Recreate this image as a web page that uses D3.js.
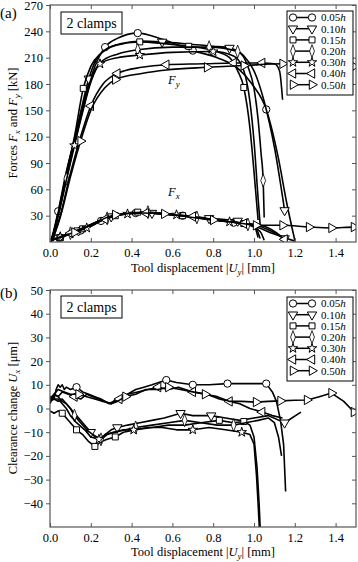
<!DOCTYPE html>
<html>
<head>
<meta charset="utf-8">
<script src="https://cdn.jsdelivr.net/npm/d3@7"></script>
<style>
  body { margin: 0; background: #fff; }
  text { font-family: "Liberation Serif", "DejaVu Serif", serif; fill: #000; }
</style>
</head>
<body>
<div id="chart"></div>
<script>
// series labels and markers (same order everywhere)
const seriesLabels = ["0.05", "0.10", "0.15", "0.20", "0.30", "0.40", "0.50"];
const markerTypes = ["circle", "tdown", "square", "diamond", "star", "tleft", "tright"];

const xTicks = [0, 0.2, 0.4, 0.6, 0.8, 1.0, 1.2, 1.4];
const forceTicks = [30, 60, 90, 120, 150, 180, 210, 240, 270];
const clearTicks = [-40, -30, -20, -10, 0, 10, 20, 30, 40, 50];

// [displacement mm, value, marker?]
// Fy (kN)
const fy005 = [[0,0],[0.01,6],[0.04,35,1],[0.08,80],[0.13,125],[0.18,172],[0.22,200],[0.27,222,1],[0.33,232],[0.43,238,1],[0.55,231],[0.70,218,1],[0.82,210],[0.92,198],[0.99,180],[1.06,151,1],[1.12,95],[1.16,45],[1.2,2]];
const fy010 = [[0,0],[0.01,5],[0.04,33],[0.08,78],[0.12,118],[0.16,158],[0.19,186,1],[0.22,205],[0.28,220],[0.35,226],[0.45,229],[0.55,228,1],[0.7,225],[0.8,223],[0.88,221,1],[0.95,212],[1.0,195],[1.05,160],[1.1,108],[1.15,36,1]];
const fy015 = [[0,0],[0.01,5],[0.04,32],[0.08,76],[0.12,120],[0.163,175,1],[0.2,200],[0.25,215],[0.32,224],[0.44,228,1],[0.56,226],[0.68,223,1],[0.8,218],[0.88,210],[0.92,195],[0.95,176,1],[0.98,130],[1.0,80],[1.02,25]];
const fy020 = [[0,0],[0.01,4],[0.04,30],[0.08,72,1],[0.12,112],[0.16,150],[0.2,185],[0.25,205],[0.33,214],[0.43,219,1],[0.6,222],[0.78,222,1],[0.92,217,1],[0.97,200],[1.0,175],[1.02,140],[1.035,100],[1.045,70,1],[1.05,28]];
const fy030 = [[0,0],[0.01,4],[0.04,30],[0.08,70],[0.12,110,1],[0.16,148],[0.2,182],[0.245,203,1],[0.33,210],[0.44,213,1],[0.6,216],[0.8,217,1],[0.9,212],[0.95,195],[0.98,160],[1.0,115],[1.02,50],[1.03,20]];
const fy040 = [[0,0],[0.01,3],[0.05,30],[0.1,78],[0.15,120],[0.2,155,1],[0.26,180],[0.33,192,1],[0.45,199],[0.57,202,1],[0.75,203],[0.9,204,1],[1.04,204,1],[1.1,203],[1.125,195],[1.14,162]];
const fy050 = [[0,0],[0.01,3],[0.05,28],[0.1,74],[0.15,115,1],[0.2,150],[0.27,176],[0.32,185,1],[0.45,192],[0.57,196],[0.77,199,1],[0.95,201,1],[1.14,203,1],[1.3,202],[1.49,200,1],[1.5,200]];

// Fx (kN)
const fx005 = [[0,0],[0.01,2],[0.03,4],[0.05,5,1],[0.1,9],[0.15,13,1],[0.2,18],[0.25,24,1],[0.32,30],[0.42,33,1],[0.55,32],[0.65,30,1],[0.78,26],[0.9,22,1],[1.0,18],[1.1,9],[1.2,1]];
const fx010 = [[0,0],[0.01,3],[0.04,5,1],[0.1,10],[0.14,13,1],[0.22,22],[0.3,29,1],[0.42,33],[0.5,33,1],[0.65,30],[0.78,27,1],[0.92,24,1],[1.0,20],[1.07,14],[1.15,4,1]];
const fx015 = [[0,0],[0.01,2],[0.05,5,1],[0.1,10],[0.16,15,1],[0.23,23],[0.32,30,1],[0.43,34,1],[0.55,32],[0.65,30,1],[0.8,25],[0.95,21,1],[1.0,18],[1.02,5]];
const fx020 = [[0,0],[0.01,2],[0.05,5],[0.1,10,1],[0.2,20],[0.28,27,1],[0.4,33],[0.48,34,1],[0.6,31],[0.72,28,1],[0.85,24],[0.97,20,1],[1.03,12],[1.05,2]];
const fx030 = [[0,0],[0.02,3],[0.05,6,1],[0.12,11],[0.18,16,1],[0.3,29],[0.38,32,1],[0.5,33],[0.62,31,1],[0.75,27],[0.88,23,1],[1.0,19],[1.03,4]];
const fx040 = [[0,0],[0.02,3],[0.05,5],[0.1,10,1],[0.2,19],[0.27,26,1],[0.4,33],[0.47,33,1],[0.6,31],[0.7,29,1],[0.85,24],[0.95,21,1],[1.05,18],[1.1,12],[1.15,3,1]];
const fx050 = [[0,0],[0.02,3],[0.05,6],[0.12,11,1],[0.2,19],[0.32,31,1],[0.45,33],[0.56,32,1],[0.7,28],[0.8,25,1],[0.92,22],[1.01,19,1],[1.14,19,1],[1.27,17,1],[1.38,16,1],[1.49,17,1],[1.5,17]];

// Ux clearance change (um)
const ux005 = [[0,3],[0.01,5],[0.02,4],[0.03,8],[0.04,10],[0.05,9],[0.06,10],[0.07,8],[0.08,9],[0.1,8],[0.13,9,1],[0.16,7],[0.19,6],[0.22,5],[0.25,4],[0.27,3],[0.29,2],[0.31,3],[0.34,5],[0.38,6],[0.42,8],[0.46,9],[0.5,10],[0.57,12,1],[0.62,11],[0.7,10,1],[0.78,10],[0.87,10.5,1],[0.95,10.5],[1.06,10.5,1],[1.09,7],[1.11,3],[1.13,-5],[1.145,-15],[1.155,-35]];
const ux010 = [[0,4],[0.02,6],[0.04,5],[0.06,3],[0.08,2],[0.1,0],[0.13,-3],[0.16,-6],[0.2,-10,1],[0.23,-13],[0.25,-14],[0.27,-11],[0.3,-9],[0.33,-8,1],[0.38,-7],[0.44,-6],[0.5,-5],[0.56,-4],[0.64,-2,1],[0.7,-3],[0.79,-3,1],[0.86,-4],[0.93,-5],[1.0,-4],[1.07,-3],[1.15,-6,1],[1.23,-1.5]];
const ux015 = [[0,-1],[0.02,-2],[0.04,-1],[0.06,-2,1],[0.08,-4],[0.1,-6],[0.13,-9,1],[0.16,-11],[0.19,-14],[0.22,-16,1],[0.25,-14],[0.28,-13],[0.32,-12,1],[0.36,-10],[0.42,-9],[0.5,-8],[0.58,-7],[0.66,-7],[0.74,-6],[0.83,-5,1],[0.9,-6],[0.95,-5.5,1],[0.98,-7],[1.0,-12],[1.015,-25],[1.025,-40],[1.03,-50]];
const ux020 = [[0,5],[0.02,4],[0.04,3],[0.06,4],[0.08,2],[0.1,0],[0.12,-3,1],[0.15,-6],[0.18,-9],[0.21,-11],[0.25,-13,1],[0.28,-11],[0.32,-10],[0.37,-9],[0.42,-8,1],[0.5,-7],[0.58,-6],[0.66,-5,1],[0.74,-6],[0.82,-7],[0.9,-7,1],[0.96,-6],[1.02,-5],[1.07,-4],[1.1,-6],[1.12,-12],[1.135,-20]];
const ux030 = [[0,3],[0.02,4],[0.04,4],[0.06,2],[0.08,0],[0.1,-3],[0.13,-6],[0.17,-9],[0.2,-12],[0.24,-13,1],[0.27,-11],[0.31,-10],[0.36,-9],[0.41,-9,1],[0.48,-8],[0.55,-8],[0.62,-9],[0.7,-9,1],[0.78,-8],[0.86,-9],[0.94,-10,1],[0.98,-11],[1.0,-15],[1.012,-28],[1.02,-40],[1.026,-50]];
const ux040 = [[0,2],[0.01,4],[0.02,6],[0.04,5],[0.06,7],[0.09,6],[0.12,5,1],[0.15,4],[0.18,6],[0.21,5],[0.24,4],[0.27,3],[0.3,2],[0.34,4,1],[0.38,6],[0.43,7],[0.48,8],[0.53,9,1],[0.58,8],[0.63,9],[0.7,7,1],[0.77,6],[0.83,4],[0.88,3,1],[0.93,2],[0.98,0],[1.04,-1.5,1],[1.09,-3],[1.14,-4]];
const ux050 = [[0,4],[0.02,6],[0.04,8],[0.07,7],[0.1,6],[0.14,6,1],[0.18,5],[0.22,4],[0.26,3],[0.3,2],[0.33,3],[0.37,5,1],[0.42,6],[0.47,8],[0.53,8],[0.58,9,1],[0.64,8],[0.7,7],[0.76,6,1],[0.82,5],[0.88,3],[0.94,3],[1.01,2.7,1],[1.07,3],[1.13,3.2,1],[1.2,3.5],[1.26,3.6,1],[1.32,5],[1.38,6.5,1],[1.44,3],[1.49,-1.5,1],[1.5,-1.5]];

const fySeries = [fy005, fy010, fy015, fy020, fy030, fy040, fy050];
const fxSeries = [fx005, fx010, fx015, fx020, fx030, fx040, fx050];
const uxSeries = [ux005, ux010, ux015, ux020, ux030, ux040, ux050];

const width = 358, height = 562;
const svg = d3.select("#chart").append("svg")
  .attr("width", width)
  .attr("height", height);

const x = d3.scaleLinear().domain([0, 1.5]).range([50, 356]);
const yTop = d3.scaleLinear().domain([0, 270]).range([242, 5]);
const yBot = d3.scaleLinear().domain([-50, 50]).range([527, 290]);

// marker drawing
function addMarker(g, type, px, py) {
  let sym, rot = 0, sx = 1;
  if (type === "circle") sym = d3.symbol(d3.symbolCircle, 42);
  else if (type === "square") sym = d3.symbol(d3.symbolSquare, 36);
  else if (type === "diamond") { sym = d3.symbol(d3.symbolDiamond, 48); sx = 0.65; }
  else if (type === "star") sym = d3.symbol(d3.symbolStar, 28);
  else {
    sym = d3.symbol(d3.symbolTriangle, 38);
    rot = type === "tdown" ? 180 : type === "tleft" ? -90 : 90;
  }
  g.append("path")
    .attr("d", sym())
    .attr("transform", `translate(${px},${py}) rotate(${rot}) scale(${sx},1)`)
    .attr("fill", "#fff")
    .attr("stroke", "#000")
    .attr("stroke-width", 1);
}

function drawSeries(g, data, y, type, curve) {
  const line = d3.line().x(d => x(d[0])).y(d => y(d[1])).curve(curve);
  g.append("path")
    .attr("d", line(data))
    .attr("fill", "none")
    .attr("stroke", "#000")
    .attr("stroke-width", 1.6)
    .attr("stroke-linejoin", "round");
  data.filter(d => d[2]).forEach(d => addMarker(g, type, x(d[0]), y(d[1])));
}

function drawFrame(y, yTicks) {
  const y0 = y.range()[0], y1 = y.range()[1];
  const ax = svg.append("g");

  ax.append("g")
    .attr("transform", `translate(0,${y0})`)
    .call(d3.axisBottom(x).tickValues(xTicks).tickFormat(d3.format(".1f"))
      .tickSizeInner(-4).tickSizeOuter(0).tickPadding(6))
    .call(g => g.select(".domain").remove());

  ax.append("g")
    .attr("transform", `translate(0,${y1})`)
    .call(d3.axisTop(x).tickValues(xTicks).tickFormat("")
      .tickSizeInner(-4).tickSizeOuter(0))
    .call(g => g.select(".domain").remove());

  ax.append("g")
    .attr("transform", "translate(50,0)")
    .call(d3.axisLeft(y).tickValues(yTicks).tickFormat(d3.format("d"))
      .tickSizeInner(4).tickSizeOuter(0).tickPadding(3))
    .call(g => g.select(".domain").remove());

  ax.append("g")
    .attr("transform", "translate(356,0)")
    .call(d3.axisRight(y).tickValues(yTicks).tickFormat("")
      .tickSizeInner(-4).tickSizeOuter(0))
    .call(g => g.select(".domain").remove());

  ax.selectAll(".tick line").attr("stroke", "#555").attr("stroke-width", 1);
  ax.selectAll("text")
    .attr("font-family", "Liberation Serif, serif")
    .attr("font-size", 12.5);

  svg.append("rect")
    .attr("x", 50).attr("y", y1)
    .attr("width", 306).attr("height", y0 - y1)
    .attr("fill", "none")
    .attr("stroke", "#555")
    .attr("stroke-width", 1.2);
}

function clampBox(ty) {
  svg.append("rect")
    .attr("x", 61).attr("y", ty).attr("width", 61).attr("height", 22)
    .attr("fill", "#fff").attr("stroke", "#000").attr("stroke-width", 1);
  svg.append("text")
    .attr("x", 91.5).attr("y", ty + 15.5)
    .attr("text-anchor", "middle")
    .attr("font-size", 14)
    .text("2 clamps");
}

function legend(ty) {
  const lg = svg.append("g");
  lg.append("rect")
    .attr("x", 287).attr("y", ty).attr("width", 66).attr("height", 84)
    .attr("fill", "#fff").attr("stroke", "#000").attr("stroke-width", 1);
  seriesLabels.forEach((lab, i) => {
    const yy = ty + 6.5 + i * 11.2;
    lg.append("line")
      .attr("x1", 293).attr("x2", 312).attr("y1", yy).attr("y2", yy)
      .attr("stroke", "#000").attr("stroke-width", 1.5);
    addMarker(lg, markerTypes[i], 293, yy);
    addMarker(lg, markerTypes[i], 312, yy);
    const t = lg.append("text")
      .attr("x", 321).attr("y", yy + 3.8)
      .attr("font-size", 11);
    t.append("tspan").text(lab);
    t.append("tspan").attr("font-style", "italic").text("h");
  });
}

// clip paths
const defs = svg.append("defs");
defs.append("clipPath").attr("id", "clipTop").append("rect")
  .attr("x", 50).attr("y", 5).attr("width", 306).attr("height", 237);
defs.append("clipPath").attr("id", "clipBot").append("rect")
  .attr("x", 50).attr("y", 290).attr("width", 306).attr("height", 237);

// ---- panel (a)
const gTop = svg.append("g").attr("clip-path", "url(#clipTop)");
fxSeries.forEach((s, i) => drawSeries(gTop, s, yTop, markerTypes[i], d3.curveMonotoneX));
fySeries.forEach((s, i) => drawSeries(gTop, s, yTop, markerTypes[i], d3.curveMonotoneX));
drawFrame(yTop, forceTicks);
clampBox(12);
legend(11);

const fyLab = svg.append("text").attr("x", 168).attr("y", 84).attr("font-size", 12.5).attr("font-style", "italic");
fyLab.append("tspan").text("F");
fyLab.append("tspan").attr("font-size", 9).attr("dy", 3).text("y");
const fxLab = svg.append("text").attr("x", 168).attr("y", 196).attr("font-size", 12.5).attr("font-style", "italic");
fxLab.append("tspan").text("F");
fxLab.append("tspan").attr("font-size", 9).attr("dy", 3).text("x");

// ---- panel (b)
const gBot = svg.append("g").attr("clip-path", "url(#clipBot)");
uxSeries.forEach((s, i) => drawSeries(gBot, s, yBot, markerTypes[i], d3.curveLinear));
drawFrame(yBot, clearTicks);
clampBox(296);
legend(297);

// axis labels
function xLabel(yy) {
  const t = svg.append("text").attr("x", 203).attr("y", yy)
    .attr("text-anchor", "middle").attr("font-size", 12.5);
  t.append("tspan").text("Tool displacement |");
  t.append("tspan").attr("font-style", "italic").text("U");
  t.append("tspan").attr("font-style", "italic").attr("font-size", 9).attr("dy", 2.5).text("y");
  t.append("tspan").attr("dy", -2.5).text("| [mm]");
}
xLabel(272);
xLabel(556);

const yl1 = svg.append("text")
  .attr("transform", "translate(17,123) rotate(-90)")
  .attr("text-anchor", "middle").attr("font-size", 12.5);
yl1.append("tspan").text("Forces ");
yl1.append("tspan").attr("font-style", "italic").text("F");
yl1.append("tspan").attr("font-style", "italic").attr("font-size", 9).attr("dy", 3).text("x");
yl1.append("tspan").attr("dy", -3).text(" and ");
yl1.append("tspan").attr("font-style", "italic").text("F");
yl1.append("tspan").attr("font-style", "italic").attr("font-size", 9).attr("dy", 3).text("y");
yl1.append("tspan").attr("dy", -3).text(" [kN]");

const yl2 = svg.append("text")
  .attr("transform", "translate(17,408) rotate(-90)")
  .attr("text-anchor", "middle").attr("font-size", 12.5);
yl2.append("tspan").text("Clearance change ");
yl2.append("tspan").attr("font-style", "italic").text("U");
yl2.append("tspan").attr("font-style", "italic").attr("font-size", 9).attr("dy", 3).text("x");
yl2.append("tspan").attr("dy", -3).text(" [\u03bcm]");

// panel letters
svg.append("text").attr("x", 0).attr("y", 18).attr("font-size", 15).text("(a)");
svg.append("text").attr("x", 0).attr("y", 298).attr("font-size", 15).text("(b)");
</script>
</body>
</html>
